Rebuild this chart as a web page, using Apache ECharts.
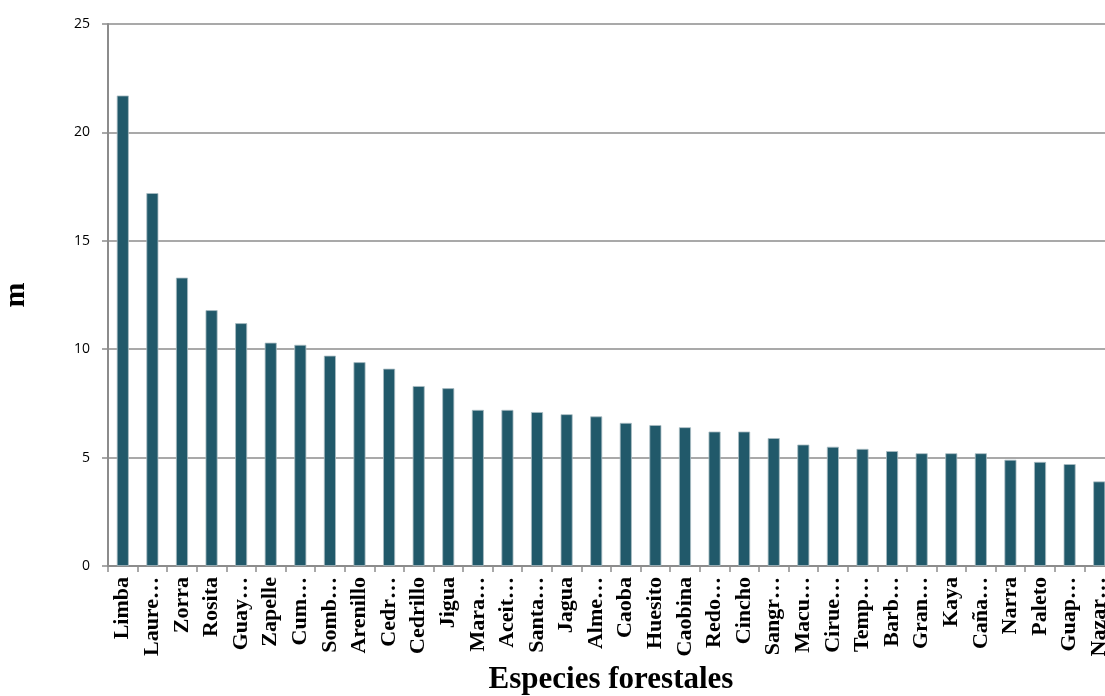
<!DOCTYPE html>
<html>
<head>
<meta charset="utf-8">
<style>
  html, body { margin: 0; padding: 0; background: #ffffff; overflow: hidden; }
  #chart { width: 1105px; height: 696px; }
</style>
<script src="https://cdn.jsdelivr.net/npm/echarts@6/dist/echarts.min.js"></script>
</head>
<body>
<div id="chart"></div>
<script>
// Especies forestales y su altura media (m)
const especies = [
  'Limba', 'Laure…', 'Zorra', 'Rosita', 'Guay…', 'Zapelle', 'Cum…', 'Somb…',
  'Arenillo', 'Cedr…', 'Cedrillo', 'Jigua', 'Mara…', 'Aceit…', 'Santa…', 'Jagua',
  'Alme…', 'Caoba', 'Huesito', 'Caobina', 'Redo…', 'Cincho', 'Sangr…', 'Macu…',
  'Cirue…', 'Temp…', 'Barb…', 'Gran…', 'Kaya', 'Caña…', 'Narra', 'Paleto',
  'Guap…', 'Nazar…'
];
const altura = [
  21.7, 17.2, 13.3, 11.8, 11.2, 10.3, 10.2, 9.7,
  9.4, 9.1, 8.3, 8.2, 7.2, 7.2, 7.1, 7.0,
  6.9, 6.6, 6.5, 6.4, 6.2, 6.2, 5.9, 5.6,
  5.5, 5.4, 5.3, 5.2, 5.2, 5.2, 4.9, 4.8,
  4.7, 3.9
];
const yTicks = { min: 0, max: 25, interval: 5 };

const chart = echarts.init(document.getElementById('chart'), null, { renderer: 'canvas' });
chart.setOption({
  animation: false,
  backgroundColor: '#ffffff',
  grid: {
    left: 108, top: 24, right: -9, bottom: 130,
    containLabel: false,
    outerBoundsMode: 'none'
  },
  xAxis: {
    type: 'category',
    data: especies,
    name: 'Especies forestales',
    nameLocation: 'middle',
    nameGap: 97,
    nameTextStyle: { fontFamily: 'Liberation Serif', fontWeight: 'bold', fontSize: 31, color: '#000' },
    axisLine: { lineStyle: { color: '#8c8c8c', width: 2 } },
    axisTick: { show: true, alignWithLabel: false, length: 6, lineStyle: { color: '#8c8c8c', width: 1.5 } },
    axisLabel: {
      rotate: 90, interval: 0, margin: 11, hideOverlap: false,
      fontFamily: 'Liberation Serif', fontWeight: 'bold', fontSize: 22, color: '#000'
    }
  },
  yAxis: {
    type: 'value',
    min: yTicks.min, max: yTicks.max, interval: yTicks.interval,
    name: 'm',
    nameLocation: 'middle',
    nameGap: 77,
    nameRotate: 90,
    nameTextStyle: { fontFamily: 'Liberation Serif', fontWeight: 'bold', fontSize: 30, color: '#000' },
    axisLine: { show: true, lineStyle: { color: '#8c8c8c', width: 2 } },
    axisTick: { show: true, inside: false, length: 6, lineStyle: { color: '#8c8c8c', width: 1.5 } },
    axisLabel: { margin: 18, fontFamily: 'Open Sans', fontSize: 14, color: '#000' },
    splitLine: { show: true, lineStyle: { color: '#8c8c8c', width: 1.5 } }
  },
  series: [{
    type: 'bar',
    data: altura,
    barWidth: 12,
    itemStyle: { color: '#21596a', borderColor: '#a9bcc3', borderWidth: 0.8 }
  }]
});
</script>
</body>
</html>
